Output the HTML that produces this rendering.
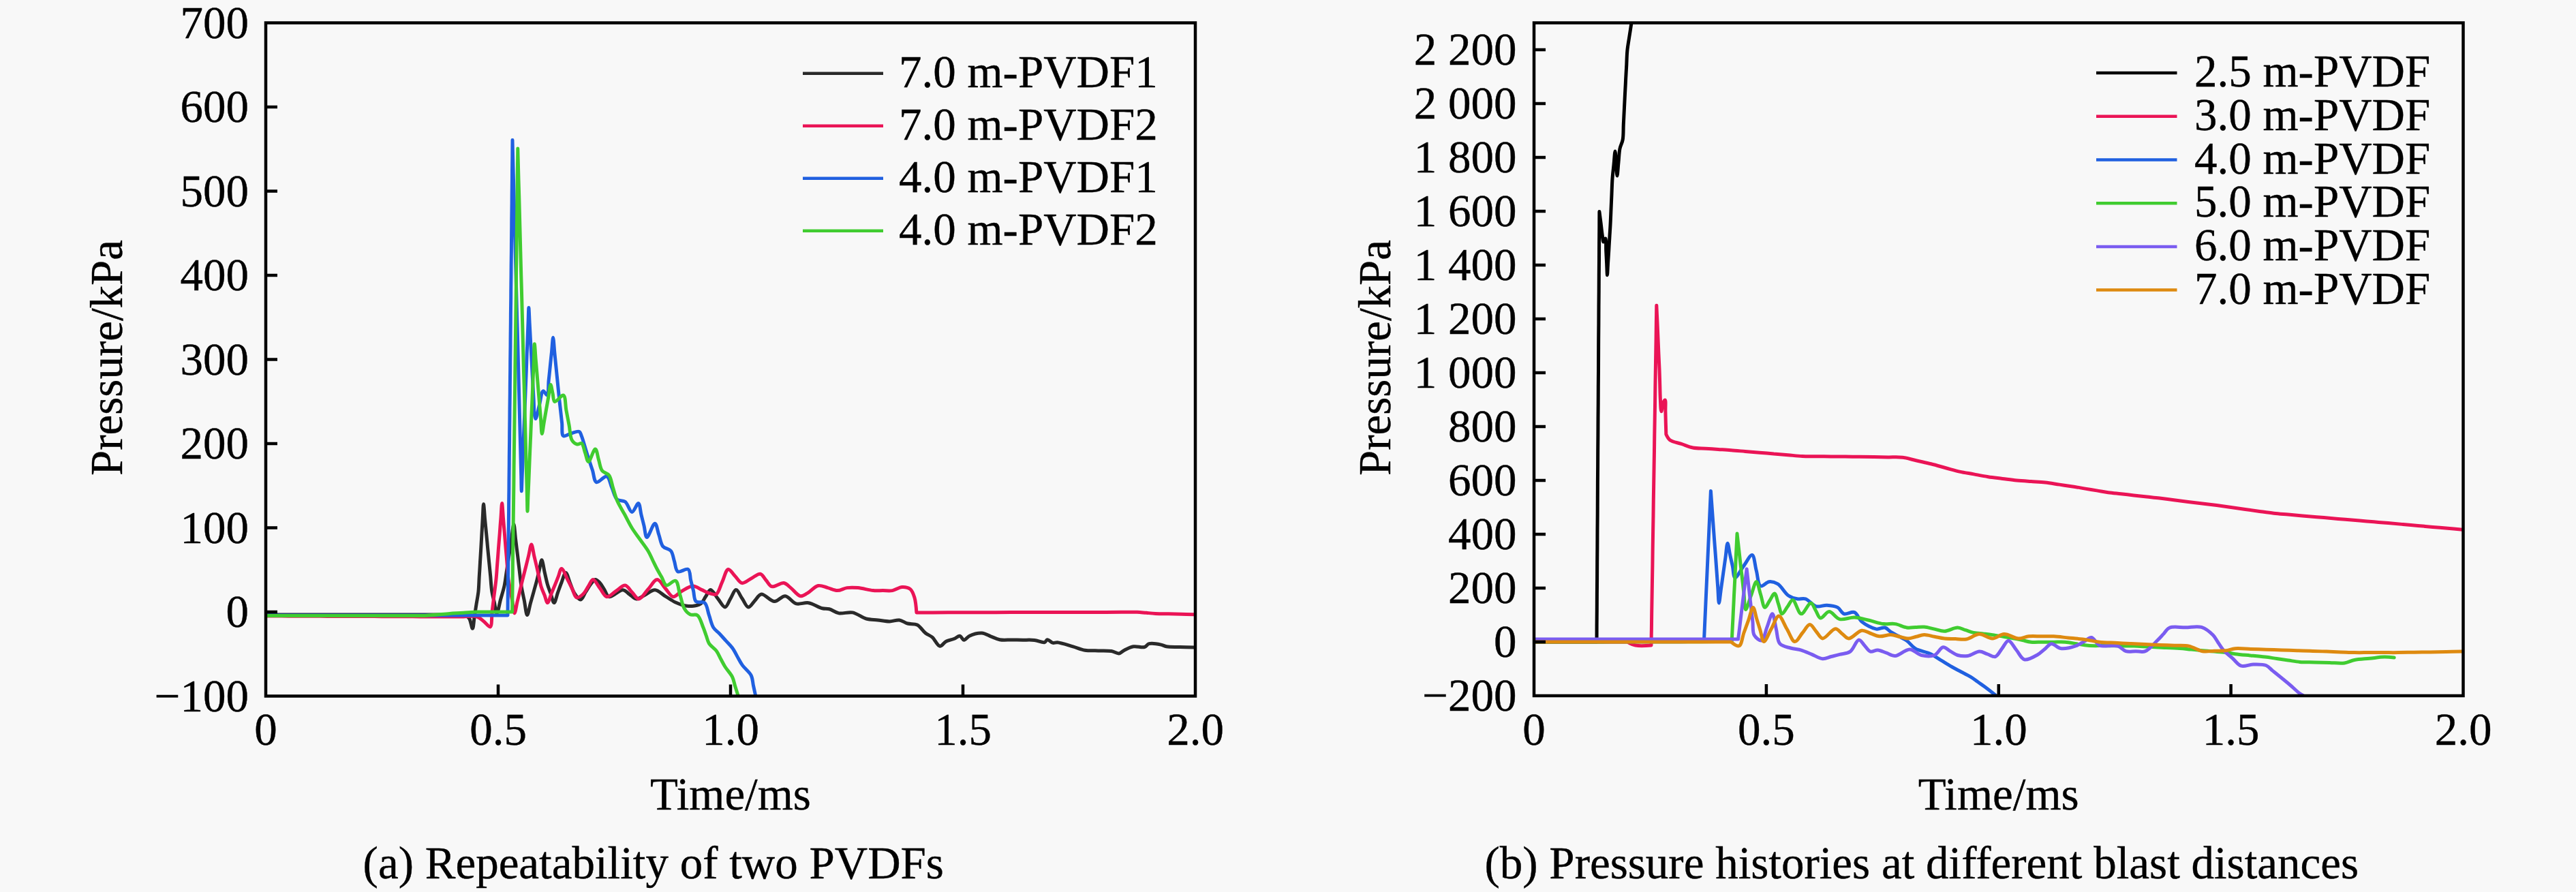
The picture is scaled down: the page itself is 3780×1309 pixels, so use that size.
<!DOCTYPE html>
<html><head><meta charset="utf-8"><style>
html,body{margin:0;padding:0;background:#f8f8f8;width:3780px;height:1309px;overflow:hidden;}
svg{display:block;font-family:"Liberation Serif",serif;}
</style></head><body>
<svg width="3780" height="1309" viewBox="0 0 3780 1309">
<rect width="3780" height="1309" fill="#f8f8f8"/>
<clipPath id="cl"><rect x="390.0" y="33.5" width="1364.0" height="988.0"/></clipPath>
<g clip-path="url(#cl)" fill="none" stroke-width="5" stroke-linejoin="round" stroke-linecap="round">
<path d="M390.0 902.0 C390.0 902.0 405.0 902.0 412.5 902.0 C419.9 902.0 427.4 902.0 434.9 902.0 C442.4 902.0 449.9 902.0 457.4 902.0 C464.9 902.0 472.4 902.0 479.8 902.0 C487.3 902.0 494.8 902.0 502.3 902.0 C509.8 902.0 517.3 902.0 524.8 902.0 C532.3 902.0 539.7 902.0 547.2 902.0 C554.7 902.0 562.2 902.0 569.7 902.0 C577.2 902.0 584.7 902.0 592.2 902.0 C599.6 902.0 607.1 902.0 614.6 902.0 C622.1 902.0 629.6 902.0 637.1 902.0 C644.6 902.0 652.1 902.0 659.5 902.0 C667.0 902.0 677.0 900.2 682.0 902.0 C685.1 903.1 686.7 904.9 688.5 907.5 C690.9 911.0 692.1 922.4 693.4 922.3 C694.8 922.2 695.3 910.2 696.3 904.2 C697.2 898.2 698.2 892.1 699.1 886.1 C700.1 880.1 701.3 874.3 702.0 868.0 C702.7 861.2 702.8 853.7 703.2 846.6 C703.7 839.5 704.1 832.4 704.5 825.2 C704.9 818.1 705.3 811.0 705.8 803.9 C706.2 796.7 706.6 789.6 707.0 782.5 C707.4 775.3 707.8 768.2 708.2 761.1 C708.7 754.0 709.0 739.7 709.5 739.7 C710.1 739.7 710.9 754.0 711.5 761.1 C712.2 768.2 712.9 775.3 713.6 782.5 C714.3 789.6 715.0 796.7 715.6 803.9 C716.3 811.0 717.0 818.1 717.7 825.2 C718.4 832.4 719.1 839.5 719.8 846.6 C720.4 853.7 720.7 861.4 721.8 868.0 C722.7 873.8 724.2 878.7 725.4 884.0 C726.6 889.3 727.6 900.0 729.0 900.0 C730.6 900.0 732.7 886.7 734.5 880.0 C736.3 873.3 738.5 866.9 740.0 860.0 C741.6 852.7 742.3 844.9 743.5 837.3 C744.6 829.8 745.8 822.2 747.0 814.6 C748.1 807.1 749.3 799.5 750.4 792.0 C751.6 784.4 752.9 769.3 753.9 769.3 C754.9 769.3 755.7 784.4 756.7 792.0 C757.6 799.5 758.5 807.1 759.5 814.6 C760.4 822.2 761.3 829.8 762.2 837.3 C763.1 844.9 763.8 852.6 765.0 860.0 C766.2 867.2 767.9 874.2 769.3 881.3 C770.7 888.4 772.0 902.5 773.6 902.6 C775.0 902.7 776.8 891.3 778.3 885.6 C779.9 879.9 781.5 874.3 783.1 868.6 C784.6 862.9 786.4 857.1 787.8 851.6 C789.1 846.5 790.2 841.7 791.3 836.7 C792.5 831.7 793.7 821.8 794.9 821.8 C796.3 821.8 797.8 833.9 799.2 839.9 C800.6 845.9 801.9 852.5 803.5 858.0 C804.9 862.8 806.7 866.9 808.2 871.3 C809.8 875.7 811.3 884.6 813.0 884.6 C814.8 884.6 816.7 874.7 818.5 869.7 C820.3 864.7 822.0 859.7 824.0 854.8 C825.9 850.0 828.1 840.6 830.2 840.6 C832.3 840.6 834.4 850.6 836.5 855.5 C838.6 860.5 840.0 866.3 842.8 870.5 C845.3 874.3 849.4 880.3 852.2 880.0 C854.9 879.7 856.9 872.7 859.2 869.0 C861.6 865.3 863.8 861.2 866.3 858.0 C868.6 855.2 871.1 850.9 873.5 850.6 C875.6 850.4 878.0 853.0 880.0 855.0 C882.5 857.6 884.6 861.9 886.9 865.4 C889.1 868.9 890.3 874.9 893.7 875.8 C898.3 877.1 908.5 865.4 914.0 865.7 C918.0 866.0 920.7 870.1 924.0 872.4 C927.3 874.6 930.3 878.8 934.0 879.0 C938.1 879.3 943.0 874.6 947.5 872.4 C952.0 870.1 956.4 865.5 961.0 865.7 C966.0 865.9 971.1 871.8 976.1 874.9 C981.2 877.9 986.0 881.6 991.3 884.0 C996.6 886.4 1002.1 888.9 1008.0 889.3 C1014.3 889.8 1023.3 888.9 1028.0 886.0 C1031.7 883.7 1032.9 879.2 1035.3 875.8 C1037.7 872.4 1039.9 865.7 1042.6 865.6 C1045.8 865.5 1049.7 874.2 1053.3 878.4 C1056.9 882.6 1060.8 891.2 1064.0 891.0 C1067.0 890.8 1069.3 882.5 1072.0 878.3 C1074.7 874.1 1077.2 865.7 1080.0 865.6 C1082.9 865.5 1086.0 874.1 1089.0 878.3 C1092.0 882.5 1094.8 890.7 1098.0 891.0 C1101.0 891.3 1104.4 884.7 1107.6 881.5 C1110.8 878.3 1113.2 872.6 1117.2 872.0 C1122.3 871.3 1130.3 882.5 1136.4 882.6 C1141.9 882.7 1147.0 874.3 1152.2 874.7 C1157.7 875.1 1162.5 884.2 1168.3 885.8 C1173.9 887.4 1180.4 883.7 1186.5 884.7 C1193.2 885.8 1201.0 891.4 1206.7 892.8 C1210.6 893.7 1213.2 892.9 1216.8 893.8 C1221.2 894.9 1225.7 899.0 1230.9 899.9 C1236.9 901.0 1244.4 897.7 1251.0 898.9 C1257.9 900.2 1264.6 906.2 1271.2 908.0 C1277.0 909.6 1282.6 909.3 1288.3 910.0 C1294.1 910.7 1300.1 912.1 1305.5 912.0 C1310.5 911.9 1315.2 909.4 1319.7 910.0 C1324.0 910.5 1327.5 913.8 1331.8 915.0 C1336.2 916.2 1341.7 914.9 1345.9 917.0 C1350.5 919.3 1354.0 925.8 1358.0 929.0 C1361.3 931.6 1364.8 932.4 1368.0 935.2 C1371.9 938.5 1375.5 947.9 1379.2 948.3 C1382.2 948.6 1384.9 943.0 1388.3 941.2 C1391.9 939.3 1396.8 938.7 1400.4 937.2 C1403.4 936.0 1406.1 932.8 1408.5 933.2 C1410.8 933.6 1412.3 939.0 1414.5 939.2 C1416.9 939.4 1419.2 934.8 1422.6 933.2 C1427.3 931.0 1435.2 928.7 1440.7 929.0 C1445.5 929.3 1449.5 932.2 1453.8 933.9 C1458.2 935.5 1462.3 937.8 1467.0 938.7 C1472.2 939.7 1478.3 938.9 1484.0 938.9 C1489.7 939.0 1495.3 939.1 1501.0 939.2 C1506.7 939.2 1512.6 938.8 1518.0 939.4 C1523.1 940.0 1529.5 943.6 1532.8 942.7 C1534.8 942.1 1535.2 938.9 1536.9 938.7 C1539.1 938.4 1542.3 942.8 1545.0 943.4 C1547.2 943.9 1548.8 942.5 1551.6 942.7 C1557.0 943.1 1567.4 946.8 1574.5 948.8 C1580.7 950.6 1585.9 953.2 1592.0 954.2 C1598.3 955.3 1605.0 954.6 1611.5 954.9 C1618.0 955.1 1625.5 954.6 1631.0 955.5 C1635.2 956.2 1638.5 959.3 1641.8 958.9 C1644.7 958.6 1646.7 955.7 1649.8 954.2 C1653.7 952.3 1658.5 949.6 1663.3 948.8 C1668.3 947.9 1675.3 950.7 1679.4 949.5 C1682.3 948.6 1683.2 945.5 1686.2 944.7 C1690.5 943.5 1699.0 945.1 1703.7 946.1 C1706.9 946.8 1708.4 948.2 1711.7 948.8 C1716.8 949.7 1725.1 949.2 1731.8 949.5 C1738.6 949.7 1752.0 950.1 1752.0 950.1" stroke="#2a2a2a"/>
<path d="M390.0 904.0 C390.0 904.0 405.2 904.1 412.7 904.1 C420.3 904.1 427.9 904.2 435.5 904.2 C443.0 904.2 450.6 904.2 458.2 904.3 C465.8 904.3 473.3 904.3 480.9 904.4 C488.5 904.4 496.1 904.4 503.6 904.5 C511.2 904.5 518.8 904.5 526.4 904.5 C533.9 904.6 541.5 904.6 549.1 904.6 C556.7 904.7 564.2 904.7 571.8 904.7 C579.4 904.8 587.0 904.8 594.5 904.8 C602.1 904.8 609.7 904.9 617.3 904.9 C624.8 904.9 632.7 905.0 640.0 905.0 C646.9 905.0 653.3 905.0 660.0 905.0 C666.7 905.0 673.3 905.0 680.0 905.0 C686.7 905.0 694.7 903.3 700.0 905.0 C704.2 906.3 706.8 909.5 710.0 912.0 C713.2 914.5 717.2 920.7 719.3 919.9 C722.2 918.8 721.2 904.4 722.2 896.6 C723.2 888.8 724.1 881.1 725.1 873.3 C726.1 865.5 727.2 857.7 728.0 850.0 C728.8 842.5 729.1 835.1 729.7 827.7 C730.3 820.3 730.9 812.8 731.4 805.4 C732.0 798.0 732.6 790.5 733.2 783.1 C733.7 775.7 734.3 768.2 734.9 760.8 C735.5 753.4 736.0 738.5 736.6 738.5 C737.2 738.5 737.9 753.4 738.5 760.8 C739.1 768.2 739.7 775.7 740.4 783.1 C741.0 790.5 741.6 798.0 742.2 805.4 C742.9 812.8 743.5 820.3 744.1 827.7 C744.7 835.1 745.1 843.1 746.0 850.0 C746.8 856.0 748.0 861.1 749.0 866.7 C750.0 872.2 751.0 877.8 752.0 883.3 C753.0 888.9 753.8 900.0 755.0 900.0 C756.2 900.0 757.7 888.9 759.0 883.3 C760.3 877.8 761.7 872.2 763.0 866.7 C764.3 861.1 765.6 855.6 767.0 850.0 C768.4 844.4 769.8 838.7 771.3 833.0 C772.7 827.3 774.1 821.7 775.5 816.0 C777.0 810.3 778.4 799.0 779.8 799.0 C781.2 799.0 782.5 810.3 783.8 815.9 C785.1 821.5 786.6 827.4 787.8 832.8 C788.9 837.7 789.9 842.2 791.0 846.9 C792.0 851.6 792.7 856.6 794.1 861.0 C795.4 865.2 797.2 868.9 798.8 872.8 C800.4 876.7 801.9 884.6 803.5 884.6 C805.2 884.6 807.2 875.7 809.0 871.3 C810.8 866.9 812.7 862.3 814.5 858.0 C816.2 854.0 817.7 850.1 819.2 846.2 C820.8 842.3 822.0 834.5 824.0 834.4 C826.5 834.3 830.6 846.3 833.4 851.6 C835.8 856.1 837.6 860.0 839.7 864.2 C841.8 868.4 843.1 875.8 846.0 876.8 C848.5 877.6 852.7 874.4 855.4 872.0 C858.4 869.4 860.3 864.9 862.8 861.3 C865.3 857.7 867.5 850.7 870.2 850.6 C873.2 850.5 876.9 859.0 880.3 863.2 C883.7 867.4 886.5 875.1 890.4 875.8 C894.3 876.5 899.4 870.2 903.8 867.4 C908.3 864.6 913.3 858.6 917.3 859.0 C921.1 859.4 924.0 865.7 927.4 869.0 C930.8 872.3 933.9 879.1 937.5 879.0 C941.7 878.9 946.5 869.5 951.0 864.8 C955.4 860.1 960.1 850.6 964.4 850.6 C968.5 850.6 972.2 859.0 976.1 863.2 C980.1 867.4 983.7 875.3 987.9 875.8 C991.7 876.2 995.5 870.2 1000.0 867.7 C1005.1 864.9 1011.8 860.0 1017.0 860.0 C1021.4 860.0 1025.2 863.6 1029.3 865.4 C1033.5 867.2 1037.8 869.7 1041.7 870.8 C1045.0 871.7 1048.3 873.4 1051.0 872.0 C1054.9 869.9 1056.9 859.8 1059.8 853.8 C1062.7 847.7 1065.1 836.1 1068.6 835.5 C1071.6 835.0 1075.3 842.2 1078.7 845.5 C1082.1 848.9 1084.9 855.0 1088.8 855.6 C1092.8 856.2 1097.8 851.1 1102.2 848.9 C1106.7 846.7 1112.0 841.5 1115.7 842.2 C1119.1 842.8 1121.3 848.4 1124.1 851.5 C1126.9 854.5 1128.8 859.7 1132.5 860.7 C1137.0 862.0 1145.3 854.7 1150.2 855.5 C1154.2 856.2 1156.7 859.8 1160.3 862.6 C1164.7 866.0 1169.9 874.0 1174.4 874.7 C1177.9 875.3 1180.9 872.6 1184.5 870.6 C1189.4 868.0 1195.2 860.6 1200.6 859.5 C1205.3 858.6 1210.0 861.4 1214.7 862.6 C1219.4 863.8 1224.2 866.6 1228.9 866.6 C1233.6 866.6 1238.1 863.3 1243.0 862.6 C1248.1 861.9 1253.2 862.1 1259.0 862.6 C1265.8 863.2 1274.7 866.0 1281.3 866.6 C1286.5 867.1 1290.7 866.6 1295.4 866.6 C1300.2 866.6 1305.0 867.4 1309.6 866.6 C1314.4 865.8 1319.1 861.7 1323.7 861.5 C1327.9 861.3 1332.8 862.2 1335.8 864.6 C1338.9 867.1 1340.4 871.9 1341.9 876.7 C1343.8 882.9 1344.9 898.9 1344.9 898.9 C1344.9 898.9 1360.3 898.9 1368.0 898.9 C1375.7 898.8 1383.4 898.8 1391.2 898.8 C1398.9 898.8 1406.6 898.8 1414.3 898.8 C1422.0 898.8 1429.7 898.7 1437.4 898.7 C1445.1 898.7 1452.8 898.7 1460.5 898.7 C1468.3 898.7 1476.0 898.7 1483.7 898.6 C1491.4 898.6 1499.1 898.6 1506.8 898.6 C1514.5 898.6 1522.2 898.6 1529.9 898.6 C1537.6 898.5 1545.3 898.5 1553.1 898.5 C1560.8 898.5 1568.5 898.5 1576.2 898.5 C1583.9 898.5 1591.6 898.4 1599.3 898.4 C1607.0 898.4 1614.7 898.4 1622.4 898.4 C1630.2 898.4 1637.9 898.4 1645.6 898.3 C1653.3 898.3 1662.0 898.0 1668.7 898.3 C1673.8 898.5 1677.7 899.0 1682.2 899.3 C1686.6 899.7 1690.7 900.2 1695.6 900.4 C1701.3 900.7 1708.1 900.7 1714.4 900.8 C1720.7 901.0 1726.9 901.1 1733.2 901.3 C1739.5 901.4 1752.0 901.7 1752.0 901.7" stroke="#ea1456"/>
<path d="M390.0 903.0 C390.0 903.0 405.8 903.0 413.7 903.0 C421.6 903.0 429.4 903.0 437.3 903.0 C445.2 903.0 453.1 903.0 461.0 903.0 C468.9 903.0 476.8 903.0 484.7 903.0 C492.6 903.0 500.4 903.0 508.3 903.0 C516.2 903.0 524.1 903.0 532.0 903.0 C539.9 903.0 547.8 903.0 555.7 903.0 C563.6 903.0 571.4 903.0 579.3 903.0 C587.2 903.0 595.1 903.0 603.0 903.0 C610.9 903.0 618.8 903.0 626.7 903.0 C634.6 903.0 642.4 903.0 650.3 903.0 C658.2 903.0 666.1 903.0 674.0 903.0 C681.9 903.0 689.8 903.0 697.7 903.0 C705.6 903.0 713.4 903.0 721.3 903.0 C729.2 903.0 745.0 903.0 745.0 903.0 C745.0 903.0 745.2 887.5 745.2 879.8 C745.3 872.0 745.4 864.3 745.5 856.5 C745.5 848.8 745.6 841.0 745.7 833.3 C745.8 825.5 745.9 817.8 745.9 810.0 C746.0 802.3 746.1 794.5 746.2 786.8 C746.2 779.0 746.3 771.3 746.4 763.5 C746.5 755.8 746.6 748.0 746.6 740.3 C746.7 732.5 746.8 724.8 746.9 717.0 C746.9 709.3 747.0 701.5 747.1 693.8 C747.2 686.0 747.3 678.3 747.3 670.5 C747.4 662.8 747.5 655.0 747.6 647.3 C747.6 639.5 747.7 631.8 747.8 624.0 C747.9 616.3 748.0 608.5 748.0 600.8 C748.1 593.0 748.2 585.3 748.3 577.5 C748.3 569.8 748.4 562.0 748.5 554.3 C748.6 546.6 748.7 538.8 748.7 531.1 C748.8 523.3 748.9 515.6 749.0 507.8 C749.0 500.1 749.1 492.3 749.2 484.6 C749.3 476.8 749.4 469.1 749.4 461.3 C749.5 453.6 749.6 445.8 749.7 438.1 C749.7 430.3 749.8 422.6 749.9 414.8 C750.0 407.1 750.1 399.3 750.1 391.6 C750.2 383.8 750.3 376.1 750.4 368.3 C750.4 360.6 750.5 352.8 750.6 345.1 C750.7 337.3 750.8 329.6 750.8 321.8 C750.9 314.1 751.0 306.3 751.1 298.6 C751.1 290.8 751.2 283.1 751.3 275.3 C751.4 267.6 751.5 259.8 751.5 252.1 C751.6 244.3 751.7 236.6 751.8 228.8 C751.8 221.1 752.0 205.6 752.0 205.6 C752.0 205.6 752.4 221.2 752.6 229.0 C752.8 236.8 753.0 244.6 753.2 252.4 C753.4 260.2 753.6 268.0 753.8 275.9 C754.0 283.7 754.2 291.5 754.4 299.3 C754.6 307.1 754.8 314.9 755.0 322.7 C755.2 330.5 755.4 338.3 755.6 346.1 C755.8 353.9 756.0 361.7 756.2 369.5 C756.4 377.3 756.6 385.1 756.8 392.9 C757.0 400.8 757.2 408.6 757.4 416.4 C757.6 424.2 757.8 432.0 758.0 439.8 C758.2 447.6 758.4 455.4 758.6 463.2 C758.9 471.0 759.1 478.8 759.3 486.6 C759.5 494.4 759.7 502.2 759.9 510.0 C760.1 517.8 760.3 525.6 760.5 533.5 C760.7 541.3 760.9 549.1 761.1 556.9 C761.3 564.7 761.5 572.5 761.7 580.3 C761.9 588.1 762.1 595.9 762.3 603.7 C762.5 611.5 762.7 619.3 762.9 627.1 C763.1 634.9 763.3 642.7 763.5 650.5 C763.7 658.4 763.9 666.2 764.1 674.0 C764.3 681.8 764.5 689.6 764.7 697.4 C764.9 705.2 765.0 720.8 765.3 720.8 C765.5 720.8 765.9 705.8 766.2 698.3 C766.5 690.9 766.8 683.4 767.1 675.9 C767.4 668.4 767.7 660.9 767.9 653.4 C768.2 646.0 768.5 638.5 768.8 631.0 C769.1 623.5 769.4 616.0 769.7 608.5 C770.0 601.1 770.3 593.6 770.6 586.1 C770.9 578.6 771.2 571.1 771.5 563.6 C771.8 556.2 772.1 548.7 772.4 541.2 C772.7 533.7 773.0 526.2 773.2 518.8 C773.5 511.3 773.8 503.8 774.1 496.3 C774.4 488.8 774.7 481.3 775.0 473.9 C775.3 466.4 775.6 451.4 775.9 451.4 C776.2 451.4 776.7 466.3 777.1 473.8 C777.5 481.3 777.9 488.8 778.3 496.2 C778.7 503.7 779.1 511.2 779.5 518.6 C779.9 526.1 780.3 533.6 780.7 541.1 C781.1 548.5 781.5 556.0 781.9 563.5 C782.3 570.9 782.7 578.4 783.1 585.9 C783.5 593.4 783.5 603.2 784.3 608.3 C784.7 611.1 785.3 614.6 786.0 614.6 C787.3 614.6 789.7 601.0 791.5 594.2 C793.3 587.4 794.4 574.5 797.0 573.8 C798.7 573.4 801.6 580.5 803.0 580.0 C805.2 579.2 804.4 565.9 805.1 558.8 C805.9 551.8 806.6 544.7 807.3 537.6 C808.0 530.6 808.7 523.5 809.5 516.5 C810.2 509.4 810.9 495.3 811.6 495.3 C812.3 495.3 813.1 509.9 813.8 517.2 C814.5 524.5 815.3 531.8 816.0 539.1 C816.7 546.5 817.5 553.8 818.2 561.1 C818.9 568.4 819.7 576.0 820.4 583.0 C821.1 589.5 821.8 595.6 822.5 601.9 C823.2 608.2 823.9 614.5 824.6 620.8 C825.3 627.1 823.7 637.8 826.7 639.7 C829.0 641.2 834.1 637.0 838.0 636.0 C841.9 634.9 847.4 632.2 850.0 633.4 C852.0 634.3 852.3 637.3 853.4 640.0 C855.1 644.1 856.8 650.8 858.5 656.1 C860.1 661.5 861.7 666.8 863.5 672.3 C865.4 678.1 867.4 684.1 869.4 690.0 C871.3 695.8 871.6 706.2 875.2 707.6 C878.7 709.0 886.6 697.8 890.4 699.0 C894.3 700.3 895.4 710.3 898.0 716.0 C900.5 721.6 901.7 729.6 905.5 732.9 C908.6 735.6 913.9 733.7 917.3 736.2 C921.5 739.2 924.0 751.3 927.4 751.4 C930.5 751.5 934.6 738.2 936.8 738.6 C939.1 739.1 939.6 749.7 940.9 755.2 C942.3 760.7 943.7 766.3 945.1 771.8 C946.4 777.3 946.9 788.1 949.2 788.4 C951.9 788.8 958.0 767.9 961.0 768.2 C963.6 768.5 964.9 779.4 966.9 785.0 C968.9 790.6 969.5 797.8 972.8 801.8 C975.7 805.3 981.7 805.1 984.5 808.5 C987.5 812.2 987.9 818.6 989.5 823.6 C991.2 828.7 991.2 836.9 994.6 838.8 C998.0 840.7 1006.6 833.5 1009.8 835.5 C1013.0 837.5 1012.4 846.0 1013.6 851.2 C1014.9 856.4 1016.2 861.7 1017.5 866.9 C1018.7 872.1 1018.2 879.7 1021.3 882.6 C1024.1 885.2 1030.9 882.1 1034.0 884.7 C1037.8 887.9 1038.3 896.8 1040.5 902.9 C1042.6 908.9 1043.9 916.3 1046.9 921.0 C1049.2 924.7 1052.5 926.5 1055.4 929.5 C1058.5 932.8 1061.8 936.6 1065.0 940.1 C1068.2 943.7 1071.8 946.9 1074.6 950.8 C1077.5 954.7 1079.6 959.3 1082.0 963.6 C1084.5 967.9 1086.4 972.1 1089.5 976.4 C1093.0 981.3 1099.7 986.0 1102.3 991.3 C1104.6 996.0 1104.4 1001.2 1105.5 1006.1 C1106.6 1011.1 1108.7 1021.0 1108.7 1021.0" stroke="#2060e0"/>
<path d="M390.0 903.5 C390.0 903.5 405.6 903.5 413.4 903.5 C421.2 903.5 429.0 903.5 436.8 903.5 C444.6 903.5 452.4 903.5 460.2 903.5 C468.0 903.5 475.8 903.5 483.6 903.5 C491.4 903.5 499.2 903.5 507.0 903.5 C514.8 903.5 522.6 903.5 530.4 903.5 C538.2 903.5 546.0 903.5 553.8 903.5 C561.6 903.5 569.4 903.5 577.2 903.5 C585.0 903.5 592.8 903.5 600.6 903.5 C608.4 903.5 616.7 903.8 624.0 903.5 C630.4 903.2 636.0 902.5 642.0 902.0 C648.0 901.5 653.8 900.9 660.0 900.5 C666.5 900.0 673.3 899.7 680.0 899.2 C686.7 898.8 693.6 898.2 700.0 898.0 C705.9 897.8 711.5 898.0 717.2 898.0 C722.9 898.0 728.7 898.0 734.4 898.0 C740.1 898.0 751.6 898.0 751.6 898.0 C751.6 898.0 751.8 882.4 751.9 874.6 C752.0 866.7 752.1 858.9 752.2 851.1 C752.3 843.3 752.4 835.5 752.4 827.7 C752.5 819.8 752.6 812.0 752.7 804.2 C752.8 796.4 752.9 788.6 753.0 780.8 C753.1 772.9 753.2 765.1 753.3 757.3 C753.4 749.5 753.5 741.7 753.6 733.9 C753.7 726.0 753.8 718.2 753.9 710.4 C754.0 702.6 754.1 694.8 754.1 687.0 C754.2 679.1 754.3 671.3 754.4 663.5 C754.5 655.7 754.6 647.9 754.7 640.1 C754.8 632.3 754.9 624.4 755.0 616.6 C755.1 608.8 755.2 601.0 755.3 593.2 C755.4 585.4 755.5 577.5 755.6 569.7 C755.7 561.9 755.7 554.1 755.8 546.3 C755.9 538.5 756.0 530.6 756.1 522.8 C756.2 515.0 756.3 507.2 756.4 499.4 C756.5 491.6 756.6 483.7 756.7 475.9 C756.8 468.1 756.9 460.3 757.0 452.5 C757.1 444.7 757.2 436.9 757.3 429.0 C757.3 421.2 757.4 413.4 757.5 405.6 C757.6 397.8 757.7 390.0 757.8 382.1 C757.9 374.3 758.0 366.5 758.1 358.7 C758.2 350.9 758.3 343.1 758.4 335.2 C758.5 327.4 758.6 319.6 758.7 311.8 C758.8 304.0 758.9 296.2 759.0 288.3 C759.0 280.5 759.1 272.7 759.2 264.9 C759.3 257.1 759.4 249.3 759.5 241.4 C759.6 233.6 759.8 218.0 759.8 218.0 C759.8 218.0 760.2 233.4 760.4 241.1 C760.6 248.9 760.8 256.6 761.0 264.3 C761.2 272.0 761.4 279.7 761.7 287.4 C761.9 295.1 762.1 302.9 762.3 310.6 C762.5 318.3 762.7 326.0 762.9 333.7 C763.1 341.4 763.3 349.1 763.5 356.9 C763.7 364.6 763.9 372.3 764.1 380.0 C764.3 387.7 764.5 395.4 764.7 403.1 C764.9 410.9 765.2 418.6 765.4 426.3 C765.6 434.0 765.8 441.7 766.0 449.4 C766.2 457.1 766.4 464.9 766.6 472.6 C766.8 480.3 767.0 488.0 767.2 495.7 C767.4 503.4 767.6 511.2 767.8 518.9 C768.0 526.6 768.2 534.3 768.4 542.0 C768.6 549.7 768.9 557.4 769.1 565.2 C769.3 572.9 769.5 580.6 769.7 588.3 C769.9 596.0 770.1 603.7 770.3 611.4 C770.5 619.2 770.7 626.9 770.9 634.6 C771.1 642.3 771.3 650.0 771.5 657.7 C771.7 665.4 771.9 673.2 772.1 680.9 C772.4 688.6 772.6 696.3 772.8 704.0 C773.0 711.7 773.2 719.4 773.4 727.2 C773.6 734.9 773.7 750.3 774.0 750.3 C774.3 750.3 774.6 735.4 774.9 728.0 C775.2 720.5 775.6 713.1 775.9 705.6 C776.2 698.2 776.5 690.8 776.8 683.3 C777.1 675.9 777.4 668.4 777.7 661.0 C778.1 653.5 778.4 646.1 778.7 638.7 C779.0 631.2 779.3 623.8 779.6 616.3 C779.9 608.9 780.2 601.5 780.6 594.0 C780.9 586.6 781.2 579.1 781.5 571.7 C781.8 564.2 782.1 556.8 782.4 549.4 C782.7 541.9 783.1 534.5 783.4 527.0 C783.7 519.6 783.8 504.7 784.3 504.7 C784.8 504.7 785.5 519.4 786.1 526.7 C786.7 534.0 787.4 541.3 788.0 548.7 C788.6 556.0 789.2 563.3 789.8 570.6 C790.4 578.0 791.0 585.3 791.6 592.6 C792.2 600.0 792.9 607.3 793.5 614.6 C794.1 621.9 794.4 636.6 795.3 636.6 C796.1 636.6 797.4 624.6 798.5 618.5 C799.5 612.5 800.6 606.5 801.6 600.5 C802.7 594.5 803.8 588.5 804.8 582.5 C805.9 576.4 806.9 564.4 808.0 564.4 C808.9 564.4 810.0 572.8 811.0 577.0 C812.0 581.1 811.7 588.7 814.0 589.5 C816.6 590.4 823.9 578.9 826.7 580.0 C830.1 581.3 829.5 594.7 830.9 602.0 C832.3 609.3 833.7 616.7 835.1 624.0 C836.5 631.3 836.4 641.3 839.3 646.0 C841.2 649.1 844.4 651.4 847.0 652.0 C849.1 652.5 851.7 649.6 853.4 650.5 C856.0 651.9 856.8 659.5 858.5 664.0 C860.1 668.4 861.3 677.3 863.5 677.4 C866.1 677.6 870.9 658.7 873.5 658.9 C875.8 659.1 876.9 669.5 878.5 674.8 C880.2 680.2 880.7 686.9 883.6 690.8 C886.1 694.1 891.1 694.1 893.7 697.5 C896.9 701.8 897.6 709.8 899.6 716.0 C901.6 722.2 902.9 728.3 905.5 734.5 C908.4 741.2 912.8 748.0 916.5 754.8 C920.1 761.5 923.5 768.7 927.4 775.0 C931.1 781.0 935.3 786.2 939.2 791.8 C943.1 797.3 947.8 803.1 951.0 808.5 C953.8 813.1 955.5 817.5 957.7 822.0 C959.9 826.5 962.1 831.2 964.4 835.5 C966.6 839.6 968.9 843.3 971.1 847.2 C973.3 851.2 974.6 858.0 977.8 859.0 C981.2 860.0 988.0 850.9 991.3 852.3 C995.2 854.0 995.6 866.0 997.8 872.8 C1000.0 879.6 1001.2 888.2 1004.3 893.3 C1006.6 897.1 1009.5 900.2 1012.8 901.8 C1015.9 903.3 1020.5 900.8 1023.4 902.9 C1027.4 905.7 1029.7 915.6 1032.0 921.0 C1033.8 925.3 1034.8 928.8 1036.2 932.7 C1037.7 936.6 1038.2 940.8 1040.5 944.4 C1043.0 948.3 1048.2 951.2 1051.1 955.0 C1053.8 958.6 1055.4 962.8 1057.5 966.8 C1059.7 970.7 1061.4 974.4 1064.0 978.5 C1067.0 983.3 1072.1 988.3 1074.6 993.4 C1076.8 997.9 1077.4 1002.6 1078.8 1007.2 C1080.3 1011.8 1083.1 1021.0 1083.1 1021.0" stroke="#40cc30"/>
</g>
<rect x="390.0" y="33.5" width="1364.0" height="988.0" fill="none" stroke="#000" stroke-width="4.5"/>
<path d="M390.0 898.0 h17 M390.0 774.5 h17 M390.0 651.0 h17 M390.0 527.5 h17 M390.0 404.0 h17 M390.0 280.5 h17 M390.0 157.0 h17 M731.0 1021.5 v-17 M1072.0 1021.5 v-17 M1413.0 1021.5 v-17" stroke="#000" stroke-width="4.5" fill="none"/>
<clipPath id="cr"><rect x="2251.0" y="33.5" width="1363.5" height="987.5"/></clipPath>
<g clip-path="url(#cr)" fill="none" stroke-width="5" stroke-linejoin="round" stroke-linecap="round">
<path d="M2251.0 942.0 C2251.0 942.0 2266.3 942.0 2274.0 942.0 C2281.7 942.0 2289.3 942.0 2297.0 942.0 C2304.7 942.0 2312.3 942.0 2320.0 942.0 C2327.7 942.0 2343.0 942.0 2343.0 942.0 C2343.0 942.0 2343.1 926.4 2343.1 918.6 C2343.2 910.8 2343.2 903.0 2343.3 895.2 C2343.3 887.4 2343.4 879.6 2343.4 871.8 C2343.5 864.0 2343.5 856.2 2343.6 848.4 C2343.6 840.6 2343.7 832.9 2343.7 825.1 C2343.8 817.3 2343.8 809.5 2343.9 801.7 C2343.9 793.9 2344.0 786.1 2344.0 778.3 C2344.1 770.5 2344.1 762.7 2344.2 754.9 C2344.2 747.1 2344.3 739.3 2344.3 731.5 C2344.3 723.7 2344.4 715.9 2344.4 708.1 C2344.5 700.3 2344.5 692.5 2344.6 684.7 C2344.6 676.9 2344.7 669.1 2344.7 661.3 C2344.8 653.5 2344.8 645.7 2344.9 637.9 C2344.9 630.1 2345.0 622.4 2345.0 614.6 C2345.1 606.8 2345.1 599.0 2345.2 591.2 C2345.2 583.4 2345.3 575.6 2345.3 567.8 C2345.4 560.0 2345.4 552.2 2345.5 544.4 C2345.5 536.6 2345.6 528.8 2345.6 521.0 C2345.6 513.2 2345.7 505.4 2345.7 497.6 C2345.8 489.8 2345.8 482.0 2345.9 474.2 C2345.9 466.4 2346.0 458.6 2346.0 450.8 C2346.1 443.0 2346.1 435.2 2346.2 427.4 C2346.2 419.6 2346.3 411.9 2346.3 404.1 C2346.4 396.3 2346.4 388.5 2346.5 380.7 C2346.5 372.9 2346.6 365.1 2346.6 357.3 C2346.7 349.5 2346.7 341.7 2346.8 333.9 C2346.8 326.1 2346.9 310.5 2346.9 310.5 C2346.9 310.5 2348.4 322.4 2349.2 328.4 C2349.9 334.4 2350.6 341.4 2351.4 346.3 C2351.9 349.7 2352.1 354.9 2353.0 355.0 C2353.7 355.1 2355.1 349.8 2355.8 350.0 C2357.0 350.3 2356.4 361.9 2356.7 367.9 C2357.0 373.9 2357.3 379.8 2357.6 385.8 C2357.9 391.8 2358.2 403.7 2358.5 403.7 C2358.8 403.7 2359.2 391.4 2359.6 385.3 C2360.0 379.1 2360.4 373.0 2360.8 366.9 C2361.1 360.7 2361.5 354.6 2361.9 348.4 C2362.2 342.3 2362.7 336.5 2363.0 330.0 C2363.4 322.8 2363.7 314.9 2364.0 307.3 C2364.3 299.8 2364.7 292.2 2365.0 284.7 C2365.3 277.1 2365.5 269.3 2366.0 262.0 C2366.5 255.1 2367.3 248.7 2368.0 242.0 C2368.7 235.3 2369.4 222.0 2370.0 222.0 C2370.6 222.0 2371.0 234.0 2371.5 240.0 C2372.0 246.0 2372.4 258.0 2373.0 258.0 C2373.6 258.0 2374.3 244.7 2375.0 238.0 C2375.7 231.3 2375.8 223.9 2377.0 218.0 C2378.0 213.1 2380.3 210.0 2381.2 205.0 C2382.4 198.6 2381.9 190.0 2382.3 182.5 C2382.7 175.0 2383.0 167.6 2383.4 160.1 C2383.8 152.6 2384.1 145.0 2384.5 137.6 C2384.9 130.4 2385.3 123.4 2385.6 116.3 C2386.0 109.2 2386.4 102.1 2386.8 95.0 C2387.1 87.9 2387.2 80.7 2387.9 73.7 C2388.6 66.9 2389.9 60.3 2390.9 53.5 C2392.0 46.8 2394.0 33.4 2394.0 33.4" stroke="#000"/>
<path d="M2251.0 942.0 C2251.0 942.0 2266.2 942.0 2273.8 942.0 C2281.4 942.0 2289.1 942.0 2296.7 942.0 C2304.3 942.0 2311.9 942.0 2319.5 942.0 C2327.1 942.0 2334.7 942.0 2342.3 942.0 C2349.9 942.0 2357.6 942.0 2365.2 942.0 C2372.8 942.0 2388.0 942.0 2388.0 942.0 C2388.0 942.0 2395.2 946.0 2400.0 947.0 C2406.3 948.3 2423.0 947.0 2423.0 947.0 C2423.0 947.0 2423.2 931.2 2423.4 923.2 C2423.5 915.3 2423.6 907.4 2423.7 899.5 C2423.9 891.6 2424.0 883.7 2424.1 875.7 C2424.2 867.8 2424.4 859.9 2424.5 852.0 C2424.6 844.1 2424.7 836.2 2424.9 828.2 C2425.0 820.3 2425.1 812.4 2425.2 804.5 C2425.4 796.6 2425.5 788.7 2425.6 780.7 C2425.7 772.8 2425.8 764.9 2426.0 757.0 C2426.1 749.1 2426.2 741.1 2426.3 733.2 C2426.5 725.3 2426.6 717.4 2426.7 709.5 C2426.8 701.6 2427.0 693.6 2427.1 685.7 C2427.2 677.8 2427.3 669.9 2427.5 662.0 C2427.6 654.1 2427.7 646.1 2427.8 638.2 C2428.0 630.3 2428.1 622.4 2428.2 614.5 C2428.3 606.5 2428.4 598.6 2428.6 590.7 C2428.7 582.8 2428.8 574.9 2428.9 567.0 C2429.1 559.0 2429.2 551.1 2429.3 543.2 C2429.4 535.3 2429.6 527.4 2429.7 519.5 C2429.8 511.5 2429.9 503.6 2430.1 495.7 C2430.2 487.8 2430.3 479.9 2430.4 472.0 C2430.6 464.0 2430.8 448.2 2430.8 448.2 C2430.8 448.2 2431.5 463.8 2431.9 471.6 C2432.2 479.5 2432.6 487.3 2432.9 495.1 C2433.2 502.9 2433.6 510.7 2433.9 518.5 C2434.3 526.4 2434.7 534.3 2435.0 542.0 C2435.3 549.6 2435.5 557.0 2435.7 564.5 C2435.9 572.0 2436.0 580.1 2436.4 587.0 C2436.7 593.0 2437.0 603.6 2437.8 603.7 C2438.6 603.8 2439.6 592.8 2441.0 590.0 C2441.7 588.5 2442.8 586.8 2443.4 587.0 C2444.6 587.4 2443.7 598.2 2443.9 603.8 C2444.0 609.4 2444.2 614.9 2444.3 620.5 C2444.5 626.1 2444.8 637.3 2444.8 637.3 C2444.8 637.3 2447.5 643.5 2450.4 645.7 C2454.2 648.6 2461.6 649.5 2467.2 651.4 C2472.8 653.2 2478.2 655.8 2484.0 657.0 C2490.0 658.2 2496.4 657.8 2502.7 658.2 C2508.9 658.6 2515.1 659.1 2521.3 659.5 C2527.6 659.9 2533.6 660.2 2540.0 660.7 C2546.8 661.2 2554.0 661.9 2561.0 662.5 C2567.9 663.0 2574.9 663.6 2581.9 664.2 C2588.9 664.8 2595.9 665.4 2602.9 666.0 C2609.9 666.6 2616.9 667.2 2623.8 667.7 C2630.8 668.3 2637.8 669.2 2644.8 669.5 C2651.8 669.8 2658.8 669.6 2665.8 669.7 C2672.8 669.8 2679.8 669.8 2686.8 669.9 C2693.7 670.0 2700.7 670.0 2707.7 670.1 C2714.7 670.2 2721.7 670.2 2728.7 670.3 C2735.7 670.4 2742.7 670.5 2749.7 670.6 C2756.7 670.7 2763.6 670.8 2770.6 670.9 C2777.6 671.0 2784.7 670.4 2791.6 671.2 C2798.6 672.0 2805.6 674.4 2812.6 676.0 C2819.5 677.6 2826.5 679.1 2833.5 680.8 C2840.5 682.5 2847.5 684.6 2854.4 686.5 C2861.4 688.3 2868.4 690.5 2875.4 692.1 C2882.4 693.7 2889.4 694.6 2896.4 695.9 C2903.4 697.2 2910.4 698.6 2917.4 699.7 C2924.4 700.8 2931.4 701.5 2938.4 702.4 C2945.3 703.3 2952.3 704.4 2959.3 705.1 C2966.3 705.8 2973.3 706.1 2980.2 706.5 C2987.2 707.0 2994.2 707.2 3001.2 708.0 C3008.2 708.8 3015.2 710.1 3022.1 711.1 C3029.1 712.2 3036.5 713.3 3043.1 714.3 C3049.0 715.2 3054.3 716.2 3059.9 717.1 C3065.5 718.0 3071.1 719.0 3076.7 719.9 C3082.3 720.8 3087.7 721.9 3093.5 722.7 C3099.6 723.5 3106.1 724.1 3112.3 724.8 C3118.6 725.5 3124.9 726.2 3131.2 726.9 C3137.5 727.6 3143.8 728.3 3150.1 729.0 C3156.3 729.7 3162.5 730.3 3168.9 731.1 C3175.7 731.9 3182.9 732.9 3189.9 733.7 C3196.9 734.6 3203.9 735.5 3210.9 736.4 C3217.8 737.2 3224.8 738.1 3231.8 739.0 C3238.8 739.9 3245.8 740.7 3252.8 741.6 C3259.8 742.5 3266.8 743.5 3273.8 744.5 C3280.7 745.5 3287.7 746.5 3294.7 747.5 C3301.7 748.4 3308.7 749.4 3315.7 750.4 C3322.6 751.4 3329.6 752.5 3336.6 753.3 C3343.6 754.1 3350.6 754.5 3357.6 755.1 C3364.6 755.7 3371.6 756.3 3378.6 756.9 C3385.5 757.5 3392.5 758.1 3399.5 758.7 C3406.5 759.3 3413.5 759.9 3420.5 760.5 C3427.5 761.1 3434.5 761.7 3441.5 762.3 C3448.5 762.9 3455.5 763.5 3462.4 764.0 C3469.4 764.6 3476.4 765.2 3483.4 765.8 C3490.4 766.4 3497.3 767.0 3504.4 767.6 C3511.6 768.2 3518.9 768.9 3526.2 769.5 C3533.5 770.2 3540.7 770.8 3548.0 771.4 C3555.3 772.1 3562.5 772.7 3569.8 773.4 C3577.1 774.0 3584.3 774.6 3591.6 775.3 C3598.9 775.9 3613.4 777.2 3613.4 777.2" stroke="#ea1456"/>
<path d="M2251.0 942.0 C2251.0 942.0 2266.1 942.0 2273.7 942.0 C2281.2 942.0 2288.8 941.9 2296.3 941.9 C2303.9 941.9 2311.5 941.9 2319.0 941.9 C2326.6 941.9 2334.1 941.9 2341.7 941.9 C2349.2 941.8 2356.8 941.8 2364.4 941.8 C2371.9 941.8 2379.5 941.8 2387.0 941.8 C2394.6 941.8 2402.2 941.8 2409.7 941.7 C2417.3 941.7 2424.8 941.7 2432.4 941.7 C2439.9 941.7 2447.5 941.7 2455.1 941.7 C2462.6 941.7 2470.2 941.6 2477.7 941.6 C2485.3 941.6 2500.4 941.6 2500.4 941.6 C2500.4 941.6 2501.1 926.9 2501.4 919.5 C2501.7 912.1 2502.1 904.7 2502.4 897.4 C2502.7 890.0 2503.1 882.6 2503.4 875.2 C2503.7 867.9 2504.1 860.5 2504.4 853.1 C2504.7 845.7 2505.1 838.4 2505.4 831.0 C2505.7 823.6 2506.1 816.3 2506.4 808.9 C2506.7 801.5 2507.1 794.1 2507.4 786.8 C2507.7 779.4 2508.1 772.0 2508.4 764.6 C2508.7 757.3 2509.1 749.9 2509.4 742.5 C2509.7 735.1 2510.4 720.4 2510.4 720.4 C2510.4 720.4 2511.5 736.1 2512.1 743.9 C2512.7 751.8 2513.3 759.6 2513.8 767.4 C2514.4 775.3 2515.0 783.1 2515.5 790.9 C2516.1 798.8 2516.7 806.6 2517.3 814.5 C2517.8 822.3 2518.4 830.1 2519.0 838.0 C2519.5 845.8 2520.1 853.6 2520.7 861.5 C2521.3 869.3 2521.6 885.0 2522.4 885.0 C2523.2 885.0 2524.5 870.4 2525.6 863.1 C2526.6 855.8 2527.7 848.5 2528.7 841.1 C2529.7 833.8 2530.8 826.5 2531.8 819.2 C2532.9 811.9 2533.8 797.3 2535.0 797.3 C2536.1 797.3 2537.4 808.5 2538.6 814.0 C2539.8 819.6 2541.1 825.2 2542.3 830.8 C2543.5 836.3 2543.5 847.0 2545.9 847.5 C2548.6 848.1 2554.3 836.5 2558.4 831.0 C2562.6 825.5 2567.9 813.9 2571.0 814.5 C2574.3 815.1 2575.2 829.7 2577.2 837.2 C2579.3 844.8 2579.5 858.2 2583.5 860.0 C2586.6 861.4 2591.7 854.2 2596.0 853.7 C2600.1 853.3 2604.5 854.5 2608.6 856.9 C2614.1 860.2 2618.9 870.3 2624.3 874.0 C2628.4 876.8 2632.6 878.0 2636.9 878.8 C2641.0 879.6 2645.2 877.5 2649.4 878.8 C2654.6 880.4 2659.5 888.4 2665.0 889.8 C2670.0 891.1 2675.6 887.9 2680.8 888.2 C2686.1 888.5 2692.2 889.1 2696.5 891.4 C2700.4 893.5 2702.0 899.5 2705.9 900.8 C2710.1 902.2 2717.0 896.9 2721.3 898.6 C2725.8 900.4 2727.3 908.5 2732.0 912.4 C2737.5 916.9 2747.0 922.1 2753.3 923.1 C2758.0 923.8 2762.3 920.1 2766.0 921.0 C2769.3 921.8 2771.4 925.4 2774.6 927.4 C2778.1 929.7 2782.4 931.7 2786.3 933.8 C2790.2 935.9 2794.2 937.5 2798.0 940.2 C2802.4 943.3 2805.6 948.8 2810.8 951.9 C2816.7 955.4 2825.7 956.3 2832.1 959.3 C2838.0 962.0 2842.7 965.7 2848.1 968.9 C2853.4 972.1 2858.8 975.6 2864.0 978.5 C2868.8 981.2 2873.3 983.5 2877.9 986.0 C2882.5 988.4 2887.6 990.8 2891.8 993.4 C2895.7 995.8 2898.9 998.4 2902.4 1000.8 C2905.9 1003.3 2909.2 1005.5 2913.0 1008.3 C2917.6 1011.7 2928.0 1020.0 2928.0 1020.0" stroke="#2060e0"/>
<path d="M2251.0 942.0 C2251.0 942.0 2265.9 942.0 2273.3 942.0 C2280.8 942.0 2288.2 941.9 2295.6 941.9 C2303.1 941.9 2310.5 941.9 2318.0 941.9 C2325.4 941.9 2332.9 941.9 2340.3 941.9 C2347.7 941.9 2355.2 941.9 2362.6 941.8 C2370.1 941.8 2377.5 941.8 2384.9 941.8 C2392.4 941.8 2399.8 941.8 2407.3 941.8 C2414.7 941.8 2422.1 941.8 2429.6 941.8 C2437.0 941.7 2444.5 941.7 2451.9 941.7 C2459.3 941.7 2466.8 941.7 2474.2 941.7 C2481.7 941.7 2489.1 941.7 2496.6 941.7 C2504.0 941.7 2511.4 941.6 2518.9 941.6 C2526.3 941.6 2541.2 941.6 2541.2 941.6 C2541.2 941.6 2541.9 926.5 2542.3 919.0 C2542.7 911.4 2543.1 903.9 2543.4 896.3 C2543.8 888.8 2544.2 881.2 2544.5 873.7 C2544.9 866.1 2545.3 858.6 2545.7 851.0 C2546.0 843.5 2546.4 835.9 2546.8 828.4 C2547.1 820.8 2547.5 813.3 2547.9 805.7 C2548.3 798.2 2549.0 783.1 2549.0 783.1 C2549.0 783.1 2550.7 798.0 2551.5 805.4 C2552.4 812.8 2553.2 820.2 2554.0 827.7 C2554.9 835.1 2555.7 842.5 2556.6 849.9 C2557.4 857.4 2558.2 864.8 2559.1 872.2 C2559.9 879.6 2559.8 894.3 2561.6 894.5 C2563.3 894.7 2566.8 880.9 2569.4 874.1 C2572.1 867.3 2574.9 853.6 2577.3 853.7 C2579.6 853.8 2581.5 866.3 2583.6 872.5 C2585.6 878.8 2587.2 891.0 2589.8 891.4 C2591.8 891.7 2594.5 884.6 2596.9 881.2 C2599.3 877.8 2602.0 870.7 2604.0 871.0 C2606.3 871.3 2607.7 880.9 2609.5 885.9 C2611.3 890.9 2612.6 900.4 2615.0 900.8 C2617.1 901.1 2620.2 894.0 2622.8 890.6 C2625.4 887.2 2627.8 880.3 2630.6 880.4 C2634.4 880.6 2638.5 900.4 2643.1 900.8 C2647.4 901.2 2653.5 884.7 2657.3 885.0 C2660.2 885.2 2662.0 892.3 2664.4 896.0 C2666.7 899.7 2668.3 906.4 2671.4 907.0 C2674.8 907.6 2679.6 897.7 2684.0 897.6 C2688.9 897.5 2693.6 907.1 2699.6 908.6 C2706.0 910.2 2714.1 905.7 2721.3 906.0 C2728.5 906.3 2735.5 908.7 2742.6 910.3 C2749.7 911.9 2757.2 914.8 2764.0 915.6 C2769.9 916.3 2775.4 914.7 2781.0 915.6 C2786.7 916.5 2792.7 920.3 2798.0 921.0 C2802.5 921.6 2806.5 920.7 2810.8 920.5 C2815.1 920.3 2819.2 919.6 2823.6 920.0 C2828.4 920.4 2833.5 922.1 2838.5 923.1 C2843.5 924.2 2848.1 926.5 2853.4 926.3 C2859.4 926.1 2867.0 920.9 2872.6 921.0 C2877.0 921.1 2880.4 923.5 2884.3 924.7 C2888.2 925.9 2891.9 927.5 2896.0 928.4 C2900.4 929.3 2905.2 929.5 2909.8 930.0 C2914.5 930.5 2918.9 930.9 2923.7 931.6 C2928.9 932.3 2934.4 933.4 2939.7 934.3 C2945.0 935.2 2950.7 936.1 2955.7 937.0 C2960.0 937.8 2963.8 938.7 2967.8 939.6 C2971.9 940.5 2975.6 941.7 2980.0 942.2 C2985.1 942.7 2991.2 942.2 2996.8 942.2 C3002.4 942.2 3008.0 942.2 3013.6 942.2 C3019.2 942.2 3024.8 941.8 3030.4 942.2 C3036.0 942.6 3041.6 943.9 3047.2 944.8 C3052.8 945.6 3058.0 946.8 3064.0 947.3 C3070.9 947.9 3079.0 947.5 3086.4 947.6 C3093.9 947.7 3101.4 947.7 3108.9 947.8 C3116.3 947.9 3123.8 947.9 3131.3 948.1 C3138.8 948.3 3146.3 948.9 3153.7 949.2 C3161.2 949.6 3168.7 950.0 3176.2 950.4 C3183.6 950.7 3191.7 951.0 3198.6 951.5 C3204.6 951.9 3209.8 952.6 3215.4 953.1 C3221.0 953.7 3226.6 954.3 3232.2 954.8 C3237.8 955.3 3243.4 955.7 3249.1 956.1 C3254.7 956.5 3260.5 956.8 3265.9 957.4 C3270.8 958.0 3274.8 959.0 3280.0 959.7 C3286.5 960.6 3294.6 961.2 3301.8 961.9 C3309.1 962.6 3316.9 963.3 3323.7 964.1 C3329.7 964.8 3335.0 965.7 3340.7 966.5 C3346.4 967.3 3352.0 968.2 3357.7 969.0 C3363.4 969.8 3368.7 970.9 3374.7 971.4 C3381.5 972.0 3389.3 971.7 3396.6 971.9 C3403.9 972.1 3411.1 972.2 3418.4 972.4 C3425.7 972.6 3433.8 973.8 3440.3 972.9 C3445.7 972.2 3449.5 969.6 3454.9 968.5 C3461.4 967.2 3469.5 967.0 3476.8 966.3 C3484.0 965.6 3492.0 964.2 3498.6 964.1 C3504.0 964.0 3513.2 964.9 3513.2 964.9" stroke="#40cc30"/>
<path d="M2251.0 938.0 C2251.0 938.0 2266.4 938.0 2274.0 938.0 C2281.7 938.0 2289.4 938.0 2297.1 938.0 C2304.8 938.0 2312.5 938.0 2320.1 938.0 C2327.8 938.0 2335.5 938.0 2343.2 938.0 C2350.9 938.0 2358.5 938.0 2366.2 938.0 C2373.9 938.0 2381.6 938.0 2389.3 938.0 C2397.0 938.0 2404.6 938.0 2412.3 938.0 C2420.0 938.0 2427.7 938.0 2435.4 938.0 C2443.1 938.0 2450.7 938.0 2458.4 938.0 C2466.1 938.0 2473.8 938.0 2481.5 938.0 C2489.1 938.0 2496.8 938.0 2504.5 938.0 C2512.2 938.0 2519.9 938.0 2527.6 938.0 C2535.2 938.0 2550.6 938.0 2550.6 938.0 C2550.6 938.0 2552.3 924.3 2553.1 917.4 C2553.9 910.5 2554.8 903.6 2555.6 896.8 C2556.4 889.9 2557.3 883.0 2558.1 876.1 C2558.9 869.3 2559.8 862.4 2560.6 855.5 C2561.4 848.6 2563.1 834.9 2563.1 834.9 C2563.1 834.9 2564.6 847.8 2565.3 854.3 C2566.0 860.8 2566.8 867.3 2567.5 873.7 C2568.2 880.2 2569.0 886.7 2569.7 893.2 C2570.4 899.6 2571.2 906.1 2571.9 912.6 C2572.6 919.1 2571.4 927.3 2574.1 932.0 C2576.4 935.9 2582.0 940.8 2585.0 940.0 C2588.7 938.9 2590.3 926.9 2592.9 920.4 C2595.5 913.9 2598.6 900.6 2600.8 900.8 C2603.1 901.0 2604.5 915.4 2606.3 922.8 C2608.1 930.1 2607.7 940.0 2611.8 944.7 C2615.3 948.8 2622.2 949.4 2627.5 951.0 C2632.6 952.5 2638.0 952.6 2643.1 954.1 C2648.4 955.7 2653.6 958.3 2658.8 960.4 C2664.0 962.5 2669.5 966.4 2674.5 966.7 C2678.9 967.0 2682.9 964.6 2687.1 963.5 C2691.2 962.5 2695.2 961.6 2699.6 960.4 C2704.5 959.1 2710.5 959.2 2715.0 956.1 C2720.1 952.6 2723.7 939.3 2727.7 939.0 C2730.7 938.8 2733.4 944.7 2736.2 947.5 C2739.0 950.4 2741.4 955.1 2744.7 956.1 C2747.8 957.1 2751.7 953.8 2755.4 954.0 C2759.5 954.3 2763.9 956.8 2768.2 958.2 C2772.5 959.7 2776.2 962.7 2781.0 962.5 C2787.3 962.2 2795.6 952.9 2802.3 953.0 C2808.3 953.1 2813.3 960.1 2819.3 961.5 C2825.3 962.9 2833.1 963.6 2838.5 961.5 C2843.7 959.5 2847.0 950.2 2851.3 949.7 C2854.9 949.3 2858.4 953.6 2861.9 955.6 C2865.5 957.6 2868.6 960.3 2872.6 961.5 C2877.0 962.8 2882.4 963.2 2887.5 962.5 C2893.1 961.7 2899.4 956.2 2904.6 956.1 C2908.8 956.0 2912.4 958.6 2916.3 959.9 C2920.2 961.1 2924.6 964.6 2928.0 963.6 C2931.8 962.5 2934.4 955.8 2937.6 951.9 C2940.8 948.0 2943.8 940.2 2947.2 940.2 C2950.9 940.2 2955.0 949.4 2958.9 954.0 C2962.8 958.6 2965.7 966.5 2970.6 967.8 C2975.9 969.2 2984.8 963.6 2990.0 960.7 C2994.1 958.4 2996.8 955.4 3000.2 952.7 C3003.5 950.0 3006.6 945.1 3010.3 944.7 C3014.3 944.3 3018.5 950.7 3023.7 951.5 C3030.3 952.5 3041.1 949.5 3047.3 947.3 C3051.8 945.7 3054.5 943.4 3058.2 941.4 C3061.8 939.4 3065.5 935.0 3069.0 935.5 C3073.1 936.1 3076.5 945.4 3081.0 947.3 C3085.0 949.0 3089.9 947.6 3094.4 947.7 C3098.9 947.8 3103.6 946.8 3107.8 948.1 C3112.1 949.4 3115.3 954.4 3119.6 955.7 C3123.9 957.0 3129.1 955.7 3133.8 955.7 C3138.5 955.7 3143.4 957.5 3148.0 955.7 C3153.9 953.5 3160.3 945.1 3165.0 940.5 C3168.6 937.0 3171.2 934.1 3174.2 930.9 C3177.3 927.6 3179.2 923.1 3183.5 921.2 C3189.2 918.7 3199.2 920.9 3207.0 920.8 C3214.8 920.7 3223.6 918.3 3230.5 920.4 C3237.0 922.4 3243.2 927.8 3247.4 932.1 C3250.8 935.5 3252.4 939.4 3254.9 943.0 C3257.5 946.7 3259.4 950.5 3262.5 954.0 C3266.1 958.0 3271.2 961.7 3275.6 965.6 C3280.0 969.5 3283.6 975.6 3288.7 977.2 C3293.8 978.8 3300.2 975.1 3306.2 975.0 C3312.4 974.9 3320.2 974.5 3325.2 976.5 C3329.2 978.1 3331.5 981.6 3334.6 984.1 C3337.8 986.7 3340.5 988.9 3344.1 991.8 C3348.8 995.6 3355.1 1000.7 3360.2 1005.0 C3364.8 1008.9 3369.6 1013.7 3373.3 1016.6 C3375.8 1018.5 3380.0 1021.0 3380.0 1021.0" stroke="#7a5cf0"/>
<path d="M2251.0 942.0 C2251.0 942.0 2265.8 942.0 2273.2 942.0 C2280.6 942.0 2288.1 942.0 2295.5 942.0 C2302.9 942.0 2310.3 942.0 2317.7 942.0 C2325.1 942.0 2332.5 942.0 2339.9 942.0 C2347.3 942.0 2354.7 942.0 2362.2 942.0 C2369.6 942.0 2377.0 942.0 2384.4 942.0 C2391.8 942.0 2399.2 942.0 2406.6 942.0 C2414.0 942.0 2421.4 942.0 2428.8 942.0 C2436.3 942.0 2443.7 942.0 2451.1 942.0 C2458.5 942.0 2465.9 942.0 2473.3 942.0 C2480.7 942.0 2488.1 942.0 2495.5 942.0 C2502.9 942.0 2510.4 942.0 2517.8 942.0 C2525.2 942.0 2540.0 942.0 2540.0 942.0 C2540.0 942.0 2549.0 949.0 2552.0 947.8 C2555.7 946.3 2556.6 935.3 2558.8 929.0 C2561.1 922.7 2563.4 916.5 2565.7 910.2 C2567.9 903.9 2570.4 891.4 2572.5 891.4 C2574.4 891.4 2576.0 902.6 2577.7 908.1 C2579.5 913.7 2581.2 919.3 2583.0 924.9 C2584.7 930.4 2585.7 941.3 2588.2 941.6 C2591.0 941.9 2595.5 929.1 2599.2 922.8 C2602.9 916.5 2606.4 904.1 2610.2 904.0 C2614.0 903.9 2618.0 916.5 2621.9 922.8 C2625.9 929.1 2629.6 941.3 2633.7 941.6 C2637.2 941.9 2641.0 933.2 2644.7 929.0 C2648.4 924.9 2652.2 916.5 2655.7 916.5 C2658.9 916.5 2662.0 923.3 2665.1 926.7 C2668.2 930.1 2670.6 936.6 2674.5 936.9 C2679.5 937.4 2688.0 922.7 2693.3 922.7 C2697.1 922.7 2699.8 927.5 2703.1 929.9 C2706.3 932.2 2708.9 936.8 2712.8 937.0 C2718.1 937.2 2726.1 925.9 2732.0 925.2 C2736.6 924.7 2740.5 928.1 2744.8 929.5 C2749.0 930.9 2752.9 933.3 2757.5 933.8 C2762.7 934.3 2769.3 931.4 2774.6 931.6 C2779.2 931.8 2783.1 933.4 2787.3 934.3 C2791.5 935.2 2795.8 937.0 2800.0 937.0 C2804.0 937.0 2807.9 935.2 2811.8 934.3 C2815.7 933.4 2819.4 931.7 2823.6 931.6 C2828.3 931.5 2833.5 933.4 2838.5 934.3 C2843.5 935.2 2848.3 936.5 2853.4 937.0 C2858.6 937.6 2864.1 937.3 2869.4 937.5 C2874.7 937.7 2879.9 938.9 2885.4 938.0 C2891.6 936.9 2898.2 930.7 2904.6 930.6 C2910.9 930.5 2917.5 937.1 2923.7 937.0 C2929.6 936.9 2934.8 930.8 2940.8 930.6 C2947.5 930.4 2955.5 936.7 2962.0 937.0 C2967.4 937.2 2971.7 934.4 2977.0 933.8 C2982.8 933.2 2989.2 933.8 2995.3 933.8 C3001.4 933.8 3007.3 933.5 3013.6 933.8 C3020.4 934.1 3027.6 935.2 3034.6 935.9 C3041.7 936.6 3049.6 937.2 3055.7 938.0 C3060.4 938.6 3064.1 939.4 3068.3 940.1 C3072.5 940.8 3076.1 941.7 3080.9 942.2 C3087.3 942.9 3095.8 943.0 3103.3 943.3 C3110.7 943.7 3118.2 944.1 3125.6 944.5 C3133.1 944.8 3140.6 945.3 3148.0 945.6 C3155.2 945.9 3162.2 946.2 3169.3 946.4 C3176.4 946.7 3183.6 947.0 3190.7 947.3 C3197.8 947.5 3205.1 946.7 3212.0 948.1 C3218.9 949.5 3225.7 954.6 3232.2 955.7 C3238.0 956.7 3243.4 955.4 3249.1 955.2 C3254.7 955.1 3260.6 955.5 3265.9 954.8 C3270.8 954.2 3274.7 952.2 3280.0 951.7 C3286.6 951.1 3295.2 952.2 3302.7 952.4 C3310.3 952.7 3317.9 952.9 3325.5 953.2 C3333.1 953.4 3340.6 953.7 3348.2 953.9 C3355.8 954.2 3363.4 954.4 3371.0 954.7 C3378.5 954.9 3386.3 955.1 3393.7 955.4 C3400.7 955.6 3407.3 955.9 3414.1 956.1 C3420.9 956.4 3427.7 956.6 3434.5 956.9 C3441.3 957.1 3448.0 957.5 3454.9 957.6 C3461.9 957.7 3469.1 957.6 3476.3 957.6 C3483.4 957.6 3490.5 957.6 3497.6 957.6 C3504.8 957.6 3511.7 957.7 3519.0 957.6 C3526.6 957.5 3534.7 957.3 3542.5 957.2 C3550.3 957.1 3558.2 957.0 3566.0 956.9 C3573.8 956.7 3581.7 956.6 3589.5 956.5 C3597.3 956.4 3613.0 956.1 3613.0 956.1" stroke="#de8a10"/>
</g>
<rect x="2251.0" y="33.5" width="1363.5" height="987.5" fill="none" stroke="#000" stroke-width="4.5"/>
<path d="M2251.0 942.0 h17 M2251.0 863.0 h17 M2251.0 784.0 h17 M2251.0 705.0 h17 M2251.0 626.0 h17 M2251.0 547.0 h17 M2251.0 468.0 h17 M2251.0 389.0 h17 M2251.0 310.0 h17 M2251.0 231.0 h17 M2251.0 152.0 h17 M2251.0 73.0 h17 M2591.9 1021.0 v-17 M2932.8 1021.0 v-17 M3273.6 1021.0 v-17" stroke="#000" stroke-width="4.5" fill="none"/>
<g font-family="Liberation Serif" font-size="67" fill="#000" stroke="#000" stroke-width="0.4">
<text x="365" y="55.5" text-anchor="end">700</text>
<text x="365" y="179.0" text-anchor="end">600</text>
<text x="365" y="302.5" text-anchor="end">500</text>
<text x="365" y="426.0" text-anchor="end">400</text>
<text x="365" y="549.5" text-anchor="end">300</text>
<text x="365" y="673.0" text-anchor="end">200</text>
<text x="365" y="796.5" text-anchor="end">100</text>
<text x="365" y="920.0" text-anchor="end">0</text>
<text x="365" y="1043.5" text-anchor="end">−100</text>
<text x="2225.5" y="95.0" text-anchor="end">2 200</text>
<text x="2225.5" y="174.0" text-anchor="end">2 000</text>
<text x="2225.5" y="253.0" text-anchor="end">1 800</text>
<text x="2225.5" y="332.0" text-anchor="end">1 600</text>
<text x="2225.5" y="411.0" text-anchor="end">1 400</text>
<text x="2225.5" y="490.0" text-anchor="end">1 200</text>
<text x="2225.5" y="569.0" text-anchor="end">1 000</text>
<text x="2225.5" y="648.0" text-anchor="end">800</text>
<text x="2225.5" y="727.0" text-anchor="end">600</text>
<text x="2225.5" y="806.0" text-anchor="end">400</text>
<text x="2225.5" y="885.0" text-anchor="end">200</text>
<text x="2225.5" y="964.0" text-anchor="end">0</text>
<text x="2225.5" y="1043.0" text-anchor="end">−200</text>
<text x="390.0" y="1092.5" text-anchor="middle">0</text>
<text x="2251.0" y="1092.5" text-anchor="middle">0</text>
<text x="731.0" y="1092.5" text-anchor="middle">0.5</text>
<text x="2591.9" y="1092.5" text-anchor="middle">0.5</text>
<text x="1072.0" y="1092.5" text-anchor="middle">1.0</text>
<text x="2932.8" y="1092.5" text-anchor="middle">1.0</text>
<text x="1413.0" y="1092.5" text-anchor="middle">1.5</text>
<text x="3273.6" y="1092.5" text-anchor="middle">1.5</text>
<text x="1754.0" y="1092.5" text-anchor="middle">2.0</text>
<text x="3614.5" y="1092.5" text-anchor="middle">2.0</text>
<text x="1072" y="1187.5" text-anchor="middle">Time/ms</text>
<text x="2932.7" y="1187.5" text-anchor="middle">Time/ms</text>
<text transform="translate(179 525) rotate(-90)" text-anchor="middle">Pressure/kPa</text>
<text transform="translate(2040 525) rotate(-90)" text-anchor="middle">Pressure/kPa</text>
<text x="532.6" y="1288.5">(a) Repeatability of two PVDFs</text>
<text x="2178.5" y="1288.5">(b) Pressure histories at different blast distances</text>
<path d="M1178 107.7 H1296" stroke="#2a2a2a" stroke-width="4.5"/>
<text x="1319" y="127.7">7.0 m-PVDF1</text>
<path d="M1178 184.7 H1296" stroke="#ea1456" stroke-width="4.5"/>
<text x="1319" y="204.7">7.0 m-PVDF2</text>
<path d="M1178 261.7 H1296" stroke="#2060e0" stroke-width="4.5"/>
<text x="1319" y="281.7">4.0 m-PVDF1</text>
<path d="M1178 338.7 H1296" stroke="#40cc30" stroke-width="4.5"/>
<text x="1319" y="358.7">4.0 m-PVDF2</text>
<path d="M3076 107.1 H3194.5" stroke="#000" stroke-width="4.5"/>
<text x="3220" y="127.1">2.5 m-PVDF</text>
<path d="M3076 170.8 H3194.5" stroke="#ea1456" stroke-width="4.5"/>
<text x="3220" y="190.8">3.0 m-PVDF</text>
<path d="M3076 234.5 H3194.5" stroke="#2060e0" stroke-width="4.5"/>
<text x="3220" y="254.5">4.0 m-PVDF</text>
<path d="M3076 298.2 H3194.5" stroke="#40cc30" stroke-width="4.5"/>
<text x="3220" y="318.2">5.0 m-PVDF</text>
<path d="M3076 361.9 H3194.5" stroke="#7a5cf0" stroke-width="4.5"/>
<text x="3220" y="381.9">6.0 m-PVDF</text>
<path d="M3076 425.6 H3194.5" stroke="#de8a10" stroke-width="4.5"/>
<text x="3220" y="445.6">7.0 m-PVDF</text>
</g>
</svg>
</body></html>
